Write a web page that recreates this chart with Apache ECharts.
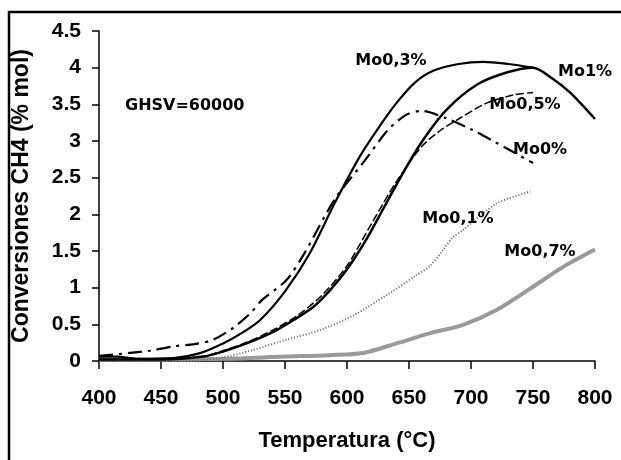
<!DOCTYPE html>
<html>
<head>
<meta charset="utf-8">
<script src="https://cdn.jsdelivr.net/npm/echarts@6/dist/echarts.min.js"></script>
<style>html,body{margin:0;padding:0;background:#fff;}#c{width:621px;height:460px;}</style>
</head>
<body>
<div id="c"></div>
<script>
// Temperatures (°C) and CH4 conversions (% mol) per catalyst
var tMo03 = [400, 415, 430, 460, 480, 500, 515, 530, 550, 570, 590, 610, 625, 640, 655, 670, 690, 710, 730, 750];
var vMo03 = [0.06, 0.06, 0.03, 0.04, 0.10, 0.24, 0.38, 0.56, 0.95, 1.47, 2.15, 2.78, 3.17, 3.52, 3.80, 3.96, 4.05, 4.08, 4.05, 4.00];

var tMo0 = [400, 425, 441, 460, 477, 492, 508, 522, 532, 551, 565, 590, 616, 633, 648, 660, 680, 700, 720, 750];
var vMo0 = [0.07, 0.11, 0.14, 0.20, 0.23, 0.29, 0.45, 0.65, 0.84, 1.10, 1.45, 2.20, 2.77, 3.15, 3.36, 3.41, 3.31, 3.16, 2.98, 2.70];

var tMo1 = [400, 450, 484, 500, 519, 541, 557, 573, 586, 600, 615, 630, 645, 660, 680, 705, 730, 750, 765, 780, 800];
var vMo1 = [0.02, 0.02, 0.06, 0.13, 0.24, 0.40, 0.56, 0.74, 0.96, 1.25, 1.64, 2.10, 2.56, 2.98, 3.42, 3.77, 3.94, 4.00, 3.86, 3.66, 3.30];

var tMo05 = [400, 480, 500, 520, 540, 560, 580, 600, 620, 640, 660, 675, 690, 713, 735, 750];
var vMo05 = [0.02, 0.05, 0.14, 0.26, 0.42, 0.62, 0.90, 1.30, 1.88, 2.45, 2.92, 3.14, 3.30, 3.52, 3.63, 3.66];

var tMo01 = [400, 480, 498, 524, 551, 578, 605, 632, 656, 667, 677, 685, 693, 721, 748];
var vMo01 = [0.00, 0.01, 0.04, 0.15, 0.29, 0.42, 0.62, 0.90, 1.17, 1.30, 1.50, 1.68, 1.78, 2.15, 2.31];

var tMo07 = [400, 450, 500, 550, 586, 613, 640, 667, 693, 721, 748, 774, 800];
var vMo07 = [0.02, 0.02, 0.03, 0.06, 0.08, 0.11, 0.24, 0.38, 0.49, 0.70, 0.99, 1.28, 1.52];

var xTicks = [400, 450, 500, 550, 600, 650, 700, 750, 800];
var yTicks = [0, 0.5, 1, 1.5, 2, 2.5, 3, 3.5, 4, 4.5];

function pairs(t, v) { return t.map(function (x, i) { return [x, v[i]]; }); }

var chart = echarts.init(document.getElementById('c'), null, { renderer: 'canvas' });
var axisFont = { color: '#000', fontFamily: 'Liberation Sans', fontWeight: 'bold', fontSize: 21 };
var lblFont = 'bold 16px "DejaVu Sans"';
function txt(x, y, s, align) {
  return { type: 'text', x: x, y: y, style: { text: s, font: lblFont, fill: '#000', align: align || 'center', verticalAlign: 'middle' }, z: 10 };
}
chart.setOption({
  animation: false,
  backgroundColor: '#fff',
  grid: { left: 99, right: 26, top: 31, bottom: 99 },
  xAxis: {
    type: 'value', min: xTicks[0], max: xTicks[xTicks.length - 1], interval: 50,
    name: 'Temperatura (°C)', nameLocation: 'middle', nameGap: 69,
    nameTextStyle: { color: '#000', fontFamily: 'Liberation Sans', fontWeight: 'bold', fontSize: 22 },
    axisLine: { lineStyle: { color: '#000', width: 1.5 } },
    axisTick: { show: true, inside: false, length: 8, lineStyle: { color: '#000', width: 1.5 } },
    axisLabel: Object.assign({ margin: 27 }, axisFont),
    splitLine: { show: false }
  },
  yAxis: {
    type: 'value', min: yTicks[0], max: yTicks[yTicks.length - 1], interval: 0.5,
    name: 'Conversiones CH4 (% mol)', nameLocation: 'middle', nameGap: 66,
    nameTextStyle: { color: '#000', fontFamily: 'Liberation Sans', fontWeight: 'bold', fontSize: 23 },
    axisLine: { show: true, lineStyle: { color: '#000', width: 1.5 } },
    axisTick: { show: true, inside: false, length: 7, lineStyle: { color: '#000', width: 1.5 } },
    axisLabel: Object.assign({ margin: 18 }, axisFont),
    splitLine: { show: false }
  },
  series: [
    { name: 'Mo0,7%', type: 'line', data: pairs(tMo07, vMo07), smooth: 0.3, showSymbol: false,
      lineStyle: { color: '#9a9a9a', width: 4, type: 'solid' } },
    { name: 'Mo0,1%', type: 'line', data: pairs(tMo01, vMo01), smooth: 0.3, showSymbol: false,
      lineStyle: { color: '#666', width: 2, type: [1, 2] } },
    { name: 'Mo0%', type: 'line', data: pairs(tMo0, vMo0), smooth: 0.3, showSymbol: false,
      lineStyle: { color: '#000', width: 2.2, type: [14, 6, 3, 6] } },
    { name: 'Mo0,5%', type: 'line', data: pairs(tMo05, vMo05), smooth: 0.3, showSymbol: false,
      lineStyle: { color: '#000', width: 1.5, type: [8, 3] } },
    { name: 'Mo1%', type: 'line', data: pairs(tMo1, vMo1), smooth: 0.3, showSymbol: false,
      lineStyle: { color: '#000', width: 2.5 } },
    { name: 'Mo0,3%', type: 'line', data: pairs(tMo03, vMo03), smooth: 0.3, showSymbol: false,
      lineStyle: { color: '#000', width: 2.2 } }
  ],
  graphic: [
    { type: 'rect', shape: { x: 9, y: 12, width: 700, height: 500 }, style: { fill: 'none', stroke: '#000', lineWidth: 2.5 }, silent: true },
    txt(125, 106, 'GHSV=60000', 'left'),
    txt(391, 61, 'Mo0,3%'),
    txt(585, 72, 'Mo1%'),
    txt(525, 105, 'Mo0,5%'),
    txt(540, 150, 'Mo0%'),
    txt(458, 219, 'Mo0,1%'),
    txt(540, 252, 'Mo0,7%')
  ]
});
</script>
</body>
</html>
